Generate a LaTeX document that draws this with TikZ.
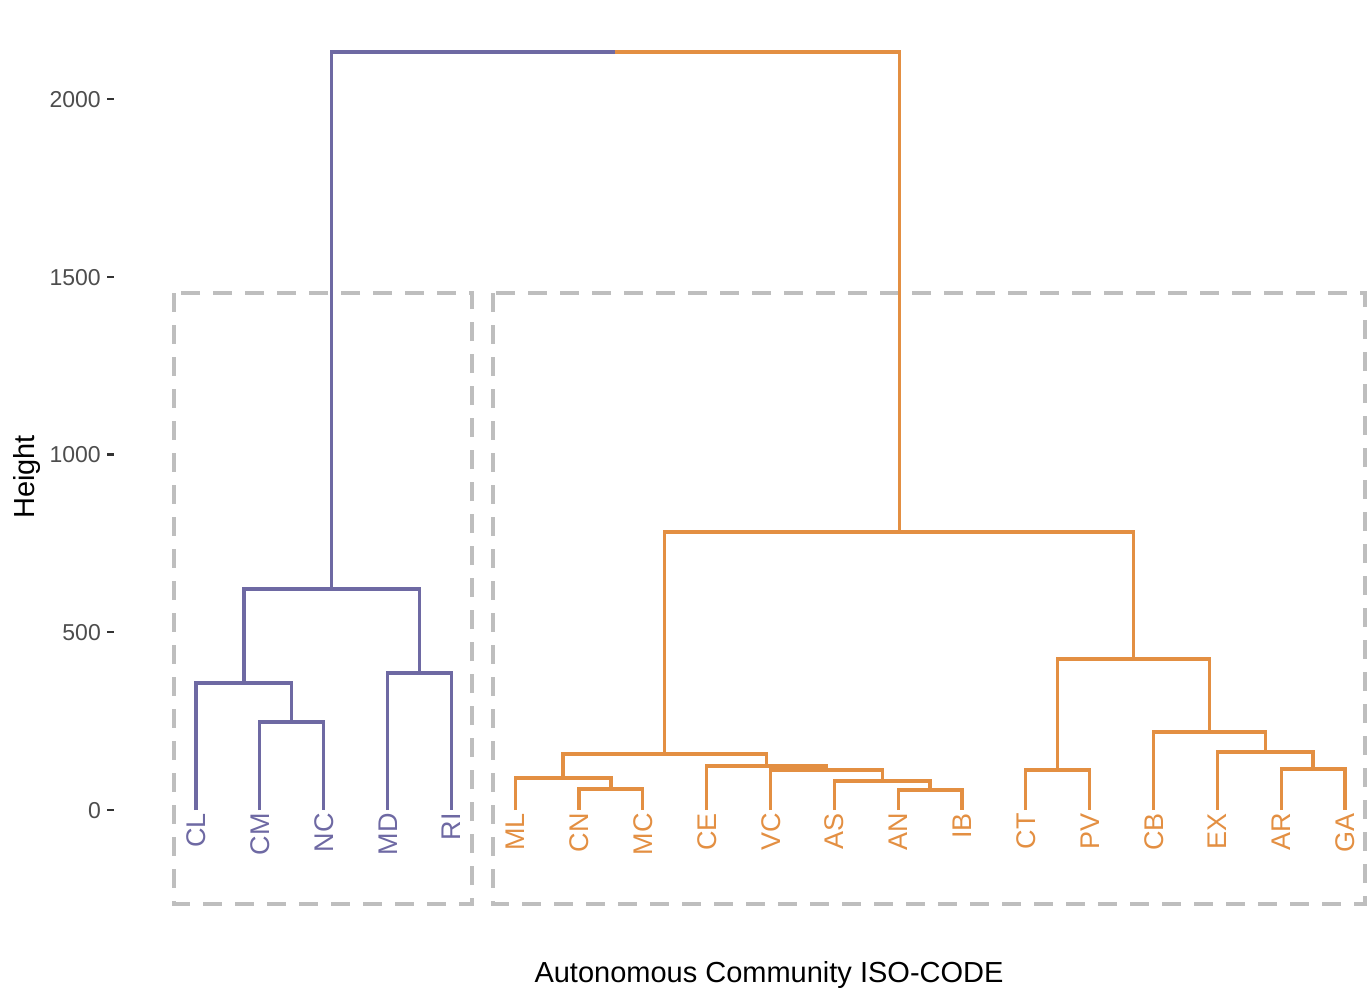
\documentclass[tikz,border=0pt]{standalone}
\usepackage{fontspec}
\setmainfont{Liberation Sans}
\definecolor{grpA}{RGB}{110,105,163}
\definecolor{grpB}{RGB}{227,143,66}
\definecolor{boxgrey}{RGB}{190,190,190}
\definecolor{ticklab}{RGB}{77,77,77}
\definecolor{tickmark}{RGB}{51,51,51}
\begin{document}
\begin{tikzpicture}[x=1pt,y=-1pt,
  branch/.style={line width=3.3pt, line join=miter},
  leaflab/.style={rotate=90, anchor=east, inner sep=0pt, text height=19.3pt, text depth=0pt, font=\fontsize{27}{30}\selectfont},
  clusterbox/.style={draw=boxgrey, line width=3.3pt, dash pattern=on 19pt off 13pt},
  ticklabel/.style={anchor=east, inner sep=0pt, text height=16.5pt, text depth=0pt, text=ticklab, font=\fontsize{23}{26}\selectfont},
  tickmk/.style={draw=tickmark, line width=2.5pt},
  axtitle/.style={inner sep=0pt, text height=20.8pt, text depth=0pt, font=\fontsize{29}{32}\selectfont}]
\useasboundingbox (0,0) rectangle (1368,993);

% cluster boxes
\draw[clusterbox] (174,293) rectangle (472,904);
\draw[clusterbox] (493,293) rectangle (1365,904);

% y axis
\foreach \v/\y in {2000/99,1500/277,1000/454.5,500/632,0/810}{
  \node[ticklabel] (tick\v) at (101,\y) {\v};
  \draw[tickmk] (107,\y) -- (114,\y);
}
\node[axtitle, rotate=90] (ytitle) at (24,477) {Height};
\node[axtitle] (xtitle) at (769,972) {Autonomous Community ISO-CODE};

% leaves
\coordinate (CL) at (196,810);
\coordinate (CM) at (259.8,810);
\coordinate (NC) at (323.7,810);
\coordinate (MD) at (387.5,810);
\coordinate (RI) at (451.3,810);
\coordinate (ML) at (515.2,810);
\coordinate (CN) at (579,810);
\coordinate (MC) at (642.8,810);
\coordinate (CE) at (706.7,810);
\coordinate (VC) at (770.5,810);
\coordinate (AS) at (834.3,810);
\coordinate (AN) at (898.2,810);
\coordinate (IB) at (962,810);
\coordinate (CT) at (1025.8,810);
\coordinate (PV) at (1089.7,810);
\coordinate (CB) at (1153.5,810);
\coordinate (EX) at (1217.3,810);
\coordinate (AR) at (1281.2,810);
\coordinate (GA) at (1345,810);

% merge points
\coordinate (m1) at (291.75,722);
\coordinate (m2) at (243.9,683);
\coordinate (m3) at (419.4,673);
\coordinate (m4) at (331.6,589);
\coordinate (r1) at (610.9,789);
\coordinate (r2) at (563.05,778);
\coordinate (r3) at (930.1,790);
\coordinate (r4) at (882.2,781);
\coordinate (r5) at (826.35,770);
\coordinate (r6) at (766.5,766);
\coordinate (r7) at (664.8,754);
\coordinate (r8) at (1057.75,770);
\coordinate (r9) at (1313.1,769);
\coordinate (r10) at (1265.2,752);
\coordinate (r11) at (1209.35,732);
\coordinate (r12) at (1133.55,659);
\coordinate (r13) at (899.2,532);
\coordinate (root) at (615.4,52);

% first group
\begin{scope}[branch, draw=grpA]
\draw (CM) |- (m1) -| (NC);
\draw (CL) |- (m2) -| (m1);
\draw (MD) |- (m3) -| (RI);
\draw (m2) |- (m4) -| (m3);
\draw (m4) |- (root);
\end{scope}

% second group
\begin{scope}[branch, draw=grpB]
\draw (CN) |- (r1) -| (MC);
\draw (ML) |- (r2) -| (r1);
\draw (AN) |- (r3) -| (IB);
\draw (AS) |- (r4) -| (r3);
\draw (VC) |- (r5) -| (r4);
\draw (CE) |- (r6) -| (r5);
\draw (r2) |- (r7) -| (r6);
\draw (CT) |- (r8) -| (PV);
\draw (AR) |- (r9) -| (GA);
\draw (EX) |- (r10) -| (r9);
\draw (CB) |- (r11) -| (r10);
\draw (r8) |- (r12) -| (r11);
\draw (r7) |- (r13) -| (r12);
\draw (root) -| (r13);
\end{scope}

% leaf labels
\foreach \n in {CL,CM,NC,MD,RI}{
  \node[leaflab, text=grpA] (t\n) at ([yshift=-3pt]\n) {\n};
}
\foreach \n in {ML,CN,MC,CE,VC,AS,AN,IB,CT,PV,CB,EX,AR,GA}{
  \node[leaflab, text=grpB] (t\n) at ([yshift=-3pt]\n) {\n};
}
\end{tikzpicture}
\end{document}
